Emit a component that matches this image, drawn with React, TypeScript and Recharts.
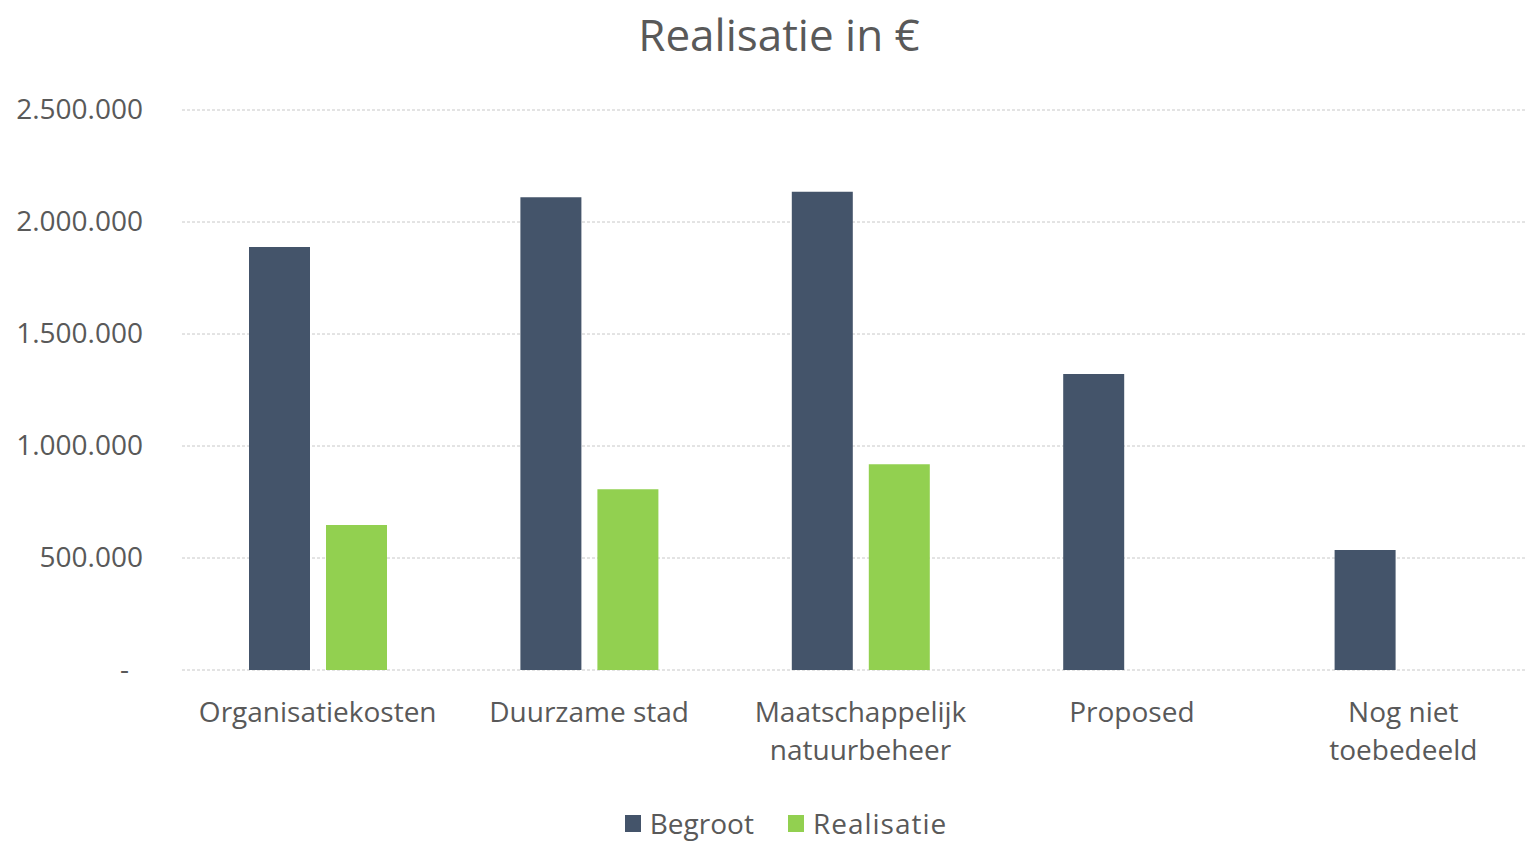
import React from 'react';
import { BarChart, Bar, XAxis, YAxis, CartesianGrid } from 'recharts';

const categories = ['Organisatiekosten', 'Duurzame stad', 'Maatschappelijk natuurbeheer', 'Proposed', 'Nog niet toebedeeld'];
const categoryLines = [['Organisatiekosten'], ['Duurzame stad'], ['Maatschappelijk', 'natuurbeheer'], ['Proposed'], ['Nog niet', 'toebedeeld']];
const begroot = [1888000, 2110000, 2135000, 1321000, 536000];
const realisatie = [647000, 807000, 918000, null, null];
const yTicks = [0, 500000, 1000000, 1500000, 2000000, 2500000];

const data = categories.map((name, i) => ({ name, Begroot: begroot[i], Realisatie: realisatie[i] }));

const FONT = '"Open Sans", sans-serif';
const TEXT = '#595959';
const colors: Record<string, string> = { Begroot: '#44546A', Realisatie: '#92D050' };

const fmt = (v: number) => v.toLocaleString('de-DE');

const XTick = (props: any) => {
  const { x, y, index } = props;
  const lines = categoryLines[index] || [];
  return (
    <g>
      {lines.map((l, i) => (
        <text key={i} x={x} y={y + 50 + i * 38} textAnchor="middle" fill={TEXT} fontSize={28} fontFamily={FONT}>
          {l}
        </text>
      ))}
    </g>
  );
};

const YTick = (props: any) => {
  const { x, y, payload } = props;
  const v = payload.value;
  return (
    <text x={v === 0 ? x - 14 : x} y={y + 9} textAnchor="end" fill={TEXT} fontSize={28} fontFamily={FONT}>
      {v === 0 ? '-' : fmt(v)}
    </text>
  );
};

export default function App() {
  return (
    <div style={{ position: 'fixed', left: 0, top: 0, width: 1527, height: 841, overflow: 'hidden', background: '#fff' }}>
      <div style={{ position: 'absolute', left: 0, top: 0, width: 1558, textAlign: 'center', fontFamily: FONT, fontSize: 44, color: TEXT, lineHeight: '68px' }}>
        Realisatie in €
      </div>
      <BarChart width={1547} height={841} data={data} margin={{ top: 110, right: 8, bottom: 141, left: 0 }} barSize={61} barGap={16}>
        <CartesianGrid vertical={false} stroke="#c8c8c8" strokeDasharray="3 2" />
        <XAxis dataKey="name" height={30} axisLine={false} tickLine={false} tickSize={0} tick={<XTick />} interval={0} />
        <YAxis width={182} domain={[0, 2500000]} ticks={yTicks} axisLine={false} tickLine={false} tickSize={0} tickMargin={39} tick={<YTick />} />
        <Bar dataKey="Begroot" fill={colors.Begroot} isAnimationActive={false} />
        <Bar dataKey="Realisatie" fill={colors.Realisatie} isAnimationActive={false} />
      </BarChart>
      <div style={{ position: 'absolute', left: 0, top: 805, width: 1572, display: 'flex', justifyContent: 'center', fontFamily: FONT, fontSize: 28, lineHeight: '36px', color: TEXT }}>
        {Object.keys(colors).map((k, i) => (
          <div key={k} style={{ display: 'flex', alignItems: 'center', marginRight: i === 0 ? 34 : 0 }}>
            <div style={{ width: 16, height: 17, background: colors[k], marginRight: 9 }} />
            <span style={{ letterSpacing: i === 1 ? 1 : 0 }}>{k}</span>
          </div>
        ))}
      </div>
    </div>
  );
}
